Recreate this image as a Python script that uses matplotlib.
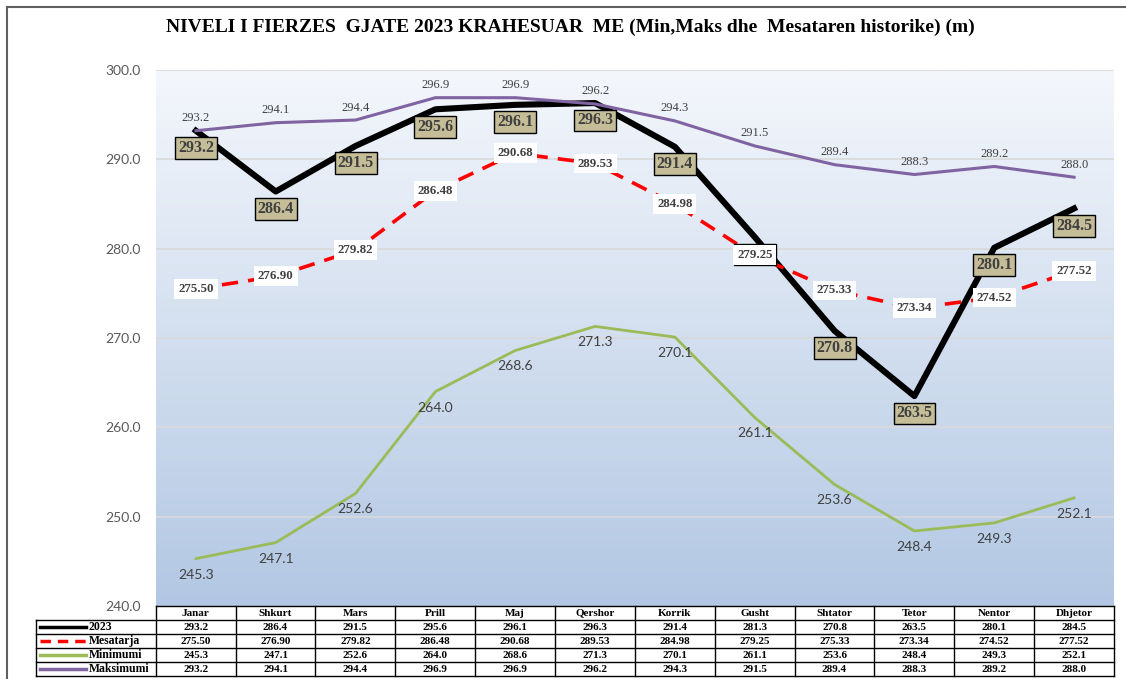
import numpy as np
import matplotlib
matplotlib.use("Agg")
import matplotlib.pyplot as plt
from matplotlib.colors import LinearSegmentedColormap
from matplotlib.lines import Line2D

# %% data
months = ["Janar", "Shkurt", "Mars", "Prill", "Maj", "Qershor",
          "Korrik", "Gusht", "Shtator", "Tetor", "Nentor", "Dhjetor"]
v2023 = [293.2, 286.4, 291.5, 295.6, 296.1, 296.3, 291.4, 281.3, 270.8, 263.5, 280.1, 284.5]
mesatarja = [275.50, 276.90, 279.82, 286.48, 290.68, 289.53, 284.98, 279.25, 275.33, 273.34, 274.52, 277.52]
minimumi = [245.3, 247.1, 252.6, 264.0, 268.6, 271.3, 270.1, 261.1, 253.6, 248.4, 249.3, 252.1]
maksimumi = [293.2, 294.1, 294.4, 296.9, 296.9, 296.2, 294.3, 291.5, 289.4, 288.3, 289.2, 288.0]
yticks = [240.0, 250.0, 260.0, 270.0, 280.0, 290.0, 300.0]

serif = "Liberation Serif"
sans = "Lato"

W, H = 1126, 679
fig = plt.figure(figsize=(W / 100, H / 100), dpi=100)

def px(x0, y0, x1, y1):
    return [x0 / W, 1 - y1 / H, (x1 - x0) / W, (y1 - y0) / H]

# outer frame (top and left edges visible)
fig.add_artist(Line2D([7 / W, 1.0], [1 - 7 / H, 1 - 7 / H], color="#606060", lw=1.5))
fig.add_artist(Line2D([7 / W, 7 / W], [0, 1 - 7 / H], color="#606060", lw=1.5))

fig.text(570 / W, 1 - 27 / H,
         "NIVELI I FIERZES  GJATE 2023 KRAHESUAR  ME (Min,Maks dhe  Mesataren historike) (m)",
         ha="center", va="center", fontsize=14, fontweight="bold", family=serif)

ax = fig.add_axes(px(156, 70, 1114, 606))
x = np.arange(len(months)) + 0.5
ax.set_xlim(0, 12)
ax.set_ylim(240, 300)

cmap = LinearSegmentedColormap.from_list("bg", ["#f4f7fc", "#b2c7e3"])
ax.imshow(np.linspace(0, 1, 256).reshape(-1, 1), cmap=cmap, extent=[0, 12, 240, 300],
          aspect="auto", zorder=0)
for yt in yticks[1:]:
    ax.axhline(yt, color="#d9d9d9", lw=1.2, zorder=1)

ax.set_yticks(yticks)
ax.set_yticklabels([f"{v:.1f}" for v in yticks], family=sans, fontsize=10, color="#595959")
ax.tick_params(axis="y", length=0, pad=11)
ax.set_xticks([])
for s in ax.spines.values():
    s.set_visible(False)

ax.plot(x, v2023, color="black", lw=4.4, zorder=3, solid_joinstyle="round")
ax.plot(x, mesatarja, color="#ff0000", lw=2.6, ls=(0, (4.5, 2.8)), zorder=3)
ax.plot(x, minimumi, color="#9bbb59", lw=2.0, zorder=3)
ax.plot(x, maksimumi, color="#8064a2", lw=2.2, zorder=3)

for xi, v in zip(x, v2023):
    ax.annotate(f"{v:.1f}", (xi, v), xytext=(0, -12.5), textcoords="offset points",
                ha="center", va="center", fontsize=11.5, fontweight="bold", family=serif,
                color="#404040", zorder=5,
                bbox=dict(boxstyle="square,pad=0.18", fc="#c4bd97", ec="black", lw=1))
for xi, v in zip(x, mesatarja):
    ax.annotate(f"{v:.2f}", (xi, v), xytext=(0, 0), textcoords="offset points",
                ha="center", va="center", fontsize=9.3, fontweight="bold", family=serif,
                color="#404040", zorder=6,
                bbox=dict(boxstyle="square,pad=0.3", fc="white", ec="none"))
for xi, v in zip(x, minimumi):
    ax.annotate(f"{v:.1f}", (xi, v), xytext=(0, -11.5), textcoords="offset points",
                ha="center", va="center", fontsize=10, family=sans, color="#404040", zorder=5)
for xi, v in zip(x, maksimumi):
    ax.annotate(f"{v:.1f}", (xi, v), xytext=(0, 9), textcoords="offset points",
                ha="center", va="center", fontsize=9, family=serif, color="#404040", zorder=5)

# %% data table
tx = fig.add_axes(px(36, 606, 1114, 676))
lw_col = 1.5
tx.set_xlim(-lw_col, 12)
tx.set_ylim(5, 0)
tx.axis("off")
tk = dict(color="black", lw=1, clip_on=False)
tx.plot([0, 12], [0, 0], **tk)
for r in range(1, 6):
    tx.plot([-lw_col, 12], [r, r], **tk)
tx.plot([-lw_col, -lw_col], [1, 5], **tk)
for c in range(13):
    tx.plot([c, c], [0, 5], **tk)

tf = dict(ha="center", va="center", fontsize=8, fontweight="bold", family=serif)
for i, m in enumerate(months):
    tx.text(i + 0.5, 0.5, m, **tf)
rows = [
    ("2023", v2023, "{:.1f}", dict(color="black", lw=2.5)),
    ("Mesatarja", mesatarja, "{:.2f}", dict(color="#ff0000", lw=2.5, ls=(0, (3, 2)))),
    ("Minimumi", minimumi, "{:.1f}", dict(color="#9bbb59", lw=2.5)),
    ("Maksimumi", maksimumi, "{:.1f}", dict(color="#8064a2", lw=2.5)),
]
for r, (name, vals, fmt, style) in enumerate(rows, start=1):
    tx.plot([-1.45, -0.88], [r + 0.5, r + 0.5], **style)
    tx.text(-0.84, r + 0.5, name, ha="left", va="center", fontsize=8.5,
            fontweight="bold", family=serif)
    for i, v in enumerate(vals):
        tx.text(i + 0.5, r + 0.5, fmt.format(v), **tf)

fig.savefig("out.png", dpi=100)
